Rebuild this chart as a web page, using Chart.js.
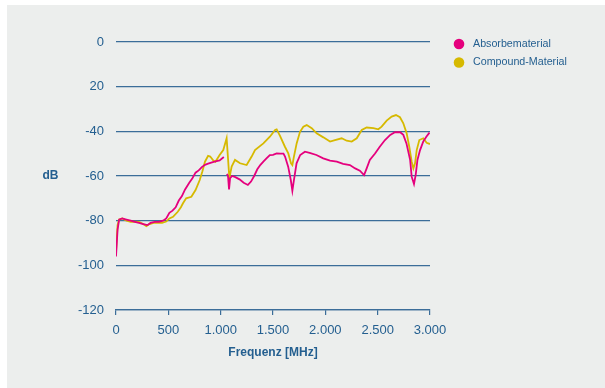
<!DOCTYPE html>
<html>
<head>
<meta charset="utf-8">
<script src="https://cdn.jsdelivr.net/npm/chart.js@4.4.1/dist/chart.umd.min.js"></script>
<style>
  html, body { margin: 0; padding: 0; background: #ffffff; }
  #chart { display: block; }
</style>
</head>
<body>
<canvas id="chart" width="605" height="388"></canvas>
<script>
// Series: frequency in MHz, attenuation in dB
const absorbFreq = [0, 15, 30, 60, 100, 140, 180, 220, 260, 300, 330, 370, 410, 450, 480, 510, 540, 570, 600, 630, 660, 700, 730, 760, 790, 820, 850, 880, 910, 950, 990, 1030,
  1050,
  1060, 1070, 1080, 1090, 1110, 1140, 1180, 1220, 1260, 1290, 1320, 1350, 1380, 1410, 1440, 1470, 1500, 1535, 1570, 1600, 1615, 1645, 1670, 1685, 1700, 1725, 1760, 1805, 1850, 1915, 1980,
  2045, 2110, 2170, 2235, 2285, 2330, 2370, 2395, 2425, 2475, 2520, 2570, 2620, 2665, 2715, 2745, 2775, 2810, 2825, 2847, 2863, 2880, 2905, 2935, 2965, 2995];
const absorbDb = [-96, -84, -79.5, -79, -79.5, -80, -80.5, -81, -81.5, -82, -81, -80.5, -80.5, -80, -79, -76.5, -75.5, -74, -71, -69, -66, -63, -61, -58.5, -57.5, -56, -55, -54.5, -54, -53.5, -53, -51.5,
  null,
  -59, -60, -66, -61, -60, -60.5, -61.5, -63, -64, -62.5, -60, -57, -55, -53.5, -52, -50.6, -50.5, -49.9, -50, -50, -51.3, -55.8, -61.8, -66.6, -61.8, -54.3, -50.6, -49.1, -49.6, -50.6, -52.1,
  -53.1, -53.6, -54.6, -55.1, -56.6, -57.6, -59.6, -56.6, -52.8, -49.9, -46.9, -43.9, -41.6, -40.4, -40.4, -41.6, -45.4, -52.8, -60.3, -63.6, -59.6, -52.8, -48.4, -44.6, -42.4, -40.6];

const compoundFreq = [0, 15, 30, 60, 100, 140, 180, 220, 260, 290, 320, 360, 400, 440, 480, 510, 545, 590, 620, 640, 670, 720, 760, 800, 825, 850, 880, 900, 930, 950, 990, 1025, 1057,
  1070, 1083, 1105, 1137, 1185, 1248, 1296, 1328, 1408, 1470, 1520, 1535, 1567, 1614, 1646, 1672, 1685, 1700, 1726, 1758, 1790, 1822, 1870, 1917, 1981,
  2045, 2092, 2156, 2204, 2252, 2300, 2348, 2395, 2459, 2506, 2538, 2586, 2634, 2675, 2713, 2745, 2777, 2802, 2825, 2841, 2857, 2873, 2898, 2936, 2968, 3000];
const compoundDb = [-94, -82, -79.5, -79, -80, -80.5, -80.4, -80.5, -81.5, -82.5, -81.5, -81, -81, -81, -80.4, -79, -78.3, -76, -74, -72.2, -70, -69.3, -66.3, -61.8, -58, -53.6, -51, -51.3, -53.1, -53.6, -50.6, -48.4, -43.1,
  -52, -61, -55.8, -52.8, -54.3, -55.1, -51.3, -48.4, -45.4, -42.4, -39.4, -39.1, -42, -46.9, -49.9, -54.3, -55.1, -51.3, -45.4, -40.2, -37.9, -37.2, -38.6, -40.9, -42.7,
  -44.6, -43.9, -43.1, -44.2, -44.6, -43.1, -39.4, -38.3, -38.6, -39.1, -37.9, -35.2, -33.4, -32.7, -33.7, -36.4, -40.9, -46.9, -53.6, -56.6, -54.3, -48.4, -43.9, -43.1, -45.1, -45.7];

const seriesNames = ['Absorbematerial', 'Compound-Material'];

// Axis ticks
const xTickValues = [0, 500, 1000, 1500, 2000, 2500, 3000];
const xTickLabels = ['0', '500', '1.000', '1.500', '2.000', '2.500', '3.000'];
const yTickValues = [0, -20, -40, -60, -80, -100, -120];
const yTickLabels = ['0', '20', '-40', '-60', '-80', '-100', '-120'];

const xTitle = 'Frequenz [MHz]';
const yTitle = 'dB';

const textColor = '#245f90';
const gridColor = '#3b6d99';
const font = '"Liberation Sans", Arial, sans-serif';

function toPoints(xs, ys) {
    return xs.map((x, i) => ({ x: x, y: ys[i] }));
}

// Grey panel, axis titles and legend
const decorPlugin = {
    id: 'decor',
    beforeDraw(chart) {
        const c = chart.ctx;
        c.save();
        c.fillStyle = '#ffffff';
        c.fillRect(0, 0, chart.width, chart.height);
        c.fillStyle = '#eceeed';
        c.fillRect(7, 5, chart.width - 7, chart.height - 5);
        c.restore();
    },
    afterDraw(chart) {
        const c = chart.ctx;
        const area = chart.chartArea;
        c.save();
        c.fillStyle = textColor;
        c.font = 'bold 12px ' + font;
        c.textAlign = 'center';
        c.textBaseline = 'middle';
        c.fillText(xTitle, (area.left + area.right) / 2, 352.5);
        c.fillText(yTitle, 50.5, 176);

        // legend
        c.textAlign = 'left';
        c.font = '10.7px ' + font;
        chart.data.datasets.forEach((ds, i) => {
            const y = 44 + i * 18.5;
            c.fillStyle = ds.borderColor;
            c.beginPath();
            c.arc(459, y, 5.3, 0, Math.PI * 2);
            c.fill();
            c.fillStyle = textColor;
            c.fillText(ds.label, 473, y);
        });
        c.restore();
    }
};

const config = {
    type: 'line',
    data: {
        datasets: [{
            label: seriesNames[0],
            data: toPoints(absorbFreq, absorbDb),
            borderColor: '#e5007d',
            borderWidth: 1.8,
            pointRadius: 0,
            tension: 0,
            spanGaps: false
        }, {
            label: seriesNames[1],
            data: toPoints(compoundFreq, compoundDb),
            borderColor: '#d6b900',
            borderWidth: 1.8,
            pointRadius: 0,
            tension: 0
        }]
    },
    options: {
        responsive: false,
        animation: false,
        devicePixelRatio: 1,
        layout: { padding: { top: 42, right: 175, left: 0, bottom: 0 } },
        plugins: {
            legend: { display: false },
            tooltip: { enabled: false }
        },
        scales: {
            x: {
                type: 'linear',
                min: 0,
                max: 3000,
                afterFit: s => { s.height = 78; },
                afterBuildTicks: s => { s.ticks = xTickValues.map(v => ({ value: v })); },
                ticks: {
                    color: textColor,
                    font: { family: font, size: 13 },
                    padding: 8,
                    maxRotation: 0,
                    callback: v => xTickLabels[xTickValues.indexOf(v)]
                },
                grid: { drawOnChartArea: false, drawTicks: true, tickLength: 5, color: gridColor, lineWidth: 1.2 },
                border: { display: true, color: gridColor, width: 1.2 }
            },
            y: {
                min: -120,
                max: 0,
                afterFit: s => { s.width = 116; },
                afterBuildTicks: s => { s.ticks = yTickValues.slice().reverse().map(v => ({ value: v })); },
                ticks: {
                    color: textColor,
                    font: { family: font, size: 13 },
                    padding: 12,
                    callback: v => yTickLabels[yTickValues.indexOf(v)]
                },
                grid: { drawTicks: false, color: gridColor, lineWidth: 1.2 },
                border: { display: false }
            }
        }
    },
    plugins: [decorPlugin]
};

window.onload = function () {
    new Chart(document.getElementById('chart').getContext('2d'), config);
};
</script>
</body>
</html>
